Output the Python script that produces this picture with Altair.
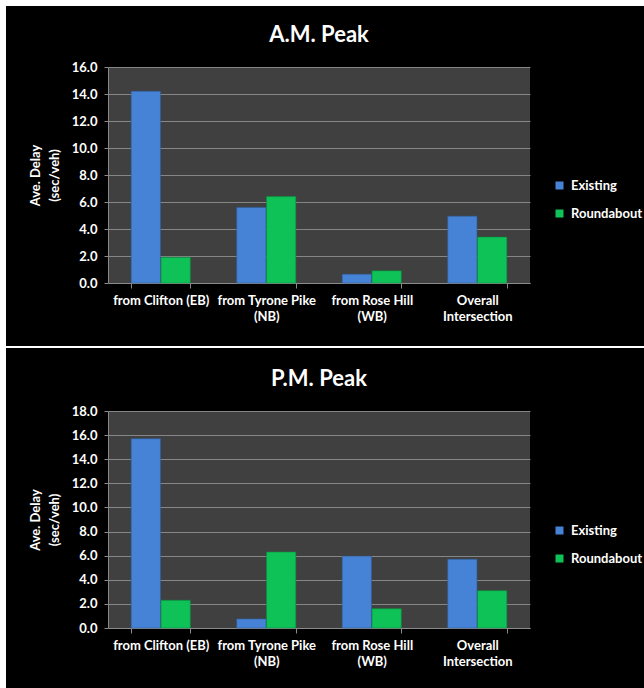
import altair as alt
import pandas as pd

categories = ["from Clifton (EB)", "from Tyrone Pike|(NB)", "from Rose Hill|(WB)", "Overall|Intersection"]
series_names = ["Existing", "Roundabout"]
series_colors = ["#4683d6", "#0ec257"]

am_title = "A.M. Peak"
am_existing = [14.2, 5.6, 0.65, 4.95]
am_roundabout = [1.9, 6.4, 0.9, 3.4]
am_ticks = [0, 2, 4, 6, 8, 10, 12, 14, 16]

pm_title = "P.M. Peak"
pm_existing = [15.7, 0.75, 5.95, 5.7]
pm_roundabout = [2.3, 6.3, 1.6, 3.1]
pm_ticks = [0, 2, 4, 6, 8, 10, 12, 14, 16, 18]

y_title = ["Ave. Delay", "(sec/veh)"]

FONT = "Lato"
W = 422


def make_df(existing, roundabout):
    rows = []
    for c, e, r in zip(categories, existing, roundabout):
        rows.append({"cat": c, "series": series_names[0], "value": e})
        rows.append({"cat": c, "series": series_names[1], "value": r})
    return pd.DataFrame(rows)


one = pd.DataFrame({"k": [0]})


def strip(x1, x2, y1, y2, color):
    return alt.Chart(one).mark_rect(color=color).encode(
        x=alt.value(x1), x2=alt.value(x2), y=alt.value(y1), y2=alt.value(y2)
    )


def panel(title, existing, roundabout, ticks, decorations, h, legend_y):
    df = make_df(existing, roundabout)
    bars = alt.Chart(df).mark_bar(strokeWidth=0.6).encode(
        x=alt.X(
            "cat:N",
            sort=categories,
            scale=alt.Scale(paddingInner=0.44, paddingOuter=0.22),
            axis=alt.Axis(
                title=None,
                labelExpr="split(datum.label, '|')",
                labelAngle=0,
                labelColor="white",
                labelFont=FONT,
                labelFontWeight="bold",
                labelFontSize=13,
                labelLineHeight=16,
                labelPadding=6,
                tickBand="extent",
                tickSize=5,
                tickColor="#8a8a8a",
                domainColor="#8a8a8a",
                grid=False,
            ),
        ),
        xOffset=alt.XOffset("series:N", sort=series_names, scale=alt.Scale(paddingInner=0.02)),
        y=alt.Y(
            "value:Q",
            scale=alt.Scale(domain=[min(ticks), max(ticks)], nice=False),
            axis=alt.Axis(
                values=ticks,
                format=".1f",
                title=y_title,
                titleColor="white",
                titleFont=FONT,
                titleFontWeight="bold",
                titleFontSize=13,
                titleLineHeight=19,
                titlePadding=10,
                labelColor="white",
                labelFont=FONT,
                labelFontWeight="bold",
                labelFontSize=13,
                labelPadding=7,
                tickSize=4,
                tickColor="#8a8a8a",
                domainColor="#8a8a8a",
                gridColor="#868686",
                gridWidth=1,
            ),
        ),
        color=alt.Color(
            "series:N",
            scale=alt.Scale(domain=series_names, range=series_colors),
            legend=alt.Legend(
                title=None,
                orient="none",
                legendX=445,
                legendY=legend_y,
                symbolType="square",
                symbolSize=64,
                symbolStrokeWidth=0,
                labelColor="white",
                labelFont=FONT,
                labelFontWeight="bold",
                labelFontSize=13,
                labelOffset=5,
                rowPadding=14,
                padding=0,
            ),
        ),
        stroke=alt.Color(
            "series:N",
            scale=alt.Scale(domain=series_names, range=["#2f5f9f", "#0a8f40"]),
            legend=None,
        ),
    )
    title_text = alt.Chart(one).mark_text(
        text=title, font=FONT, fontSize=22, fontWeight="bold", color="white",
        align="center", baseline="middle"
    ).encode(x=alt.value(W / 2), y=alt.value(-32))
    return alt.layer(*decorations, title_text, bars).properties(width=W, height=h)


top_decor = [
    strip(-108, -102, -67, 279, "white"),
    strip(-108, 536, -67, -61, "white"),
    strip(-108, 536, 279, 281, "white"),
]
bottom_decor = [
    strip(-108, -102, -63, 277, "white"),
    strip(-102, 536, 276, 277, "black"),
]

top = panel(am_title, am_existing, am_roundabout, am_ticks, top_decor, 216, 112)
bottom = panel(pm_title, pm_existing, pm_roundabout, pm_ticks, bottom_decor, 217, 113)

chart = (
    alt.vconcat(top, bottom, spacing=0)
    .resolve_scale(color="independent", stroke="independent", x="independent",
                   y="independent", xOffset="independent")
    .resolve_legend(color="independent")
    .properties(background="black", padding=0)
    .configure_view(fill="#404040", strokeWidth=0)
)

chart.save("out.html", embed_options={"renderer": "svg", "actions": False})
